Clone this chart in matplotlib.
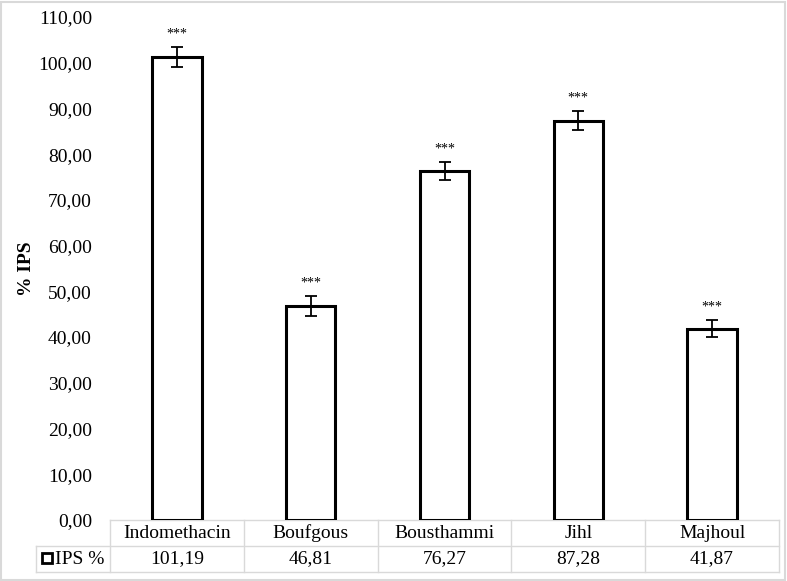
import matplotlib
matplotlib.use("Agg")
import matplotlib.pyplot as plt
from matplotlib.patches import Rectangle
from matplotlib.transforms import blended_transform_factory

categories = ["Indomethacin", "Boufgous", "Bousthammi", "Jihl", "Majhoul"]
values = [101.19, 46.81, 76.27, 87.28, 41.87]
errors = [2.2, 2.1, 2.0, 2.1, 1.9]
value_labels = ["101,19", "46,81", "76,27", "87,28", "41,87"]
yticks = list(range(0, 111, 10))
series_name = "IPS %"
signif = "***"

plt.rcParams['font.family'] = ['Liberation Serif', 'DejaVu Serif']
FS = 14

W, H = 787, 581
fig = plt.figure(figsize=(W / 100, H / 100), dpi=100)

# axes: x from 110 to 779 px, y from 520 (0) to 17 (110)
x0, x1 = 110, 779
y_bot, y_top = 520, 17
ax = fig.add_axes([x0 / W, 1 - y_bot / H, (x1 - x0) / W, (y_bot - y_top) / H])

xs = list(range(len(categories)))
ax.bar(xs, values, width=0.37, facecolor='white', edgecolor='black', linewidth=2.2, zorder=2)
ax.errorbar(xs, values, yerr=errors, fmt='none', ecolor='black', elinewidth=1.3,
            capsize=4, capthick=1.3, zorder=3)
for x, v, e in zip(xs, values, errors):
    ax.text(x, v + e + 2.9, signif, ha='center', va='center', fontsize=10)

ax.set_xlim(-0.5, len(categories) - 0.5)
ax.set_ylim(0, 110)
ax.set_yticks(yticks)
ax.set_yticklabels([f"{t},00" for t in yticks], fontsize=FS)
ax.tick_params(axis='y', length=0, pad=13)
ax.set_xticks([])
for s in ax.spines.values():
    s.set_visible(False)
ax.set_ylabel("% IPS", fontsize=FS, fontweight='bold', labelpad=2)

# table below
ah = y_bot - y_top
r1 = -26 / ah
r2 = -52 / ah
tr = blended_transform_factory(ax.transData, ax.transAxes)
gc = '#d9d9d9'
left_legend = -0.5 - (x0 - 36) / ((x1 - x0) / len(categories))
n = len(categories)
# horizontal lines
ax.plot([-0.5, n - 0.5], [0, 0], transform=tr, color=gc, lw=1, clip_on=False, zorder=1)
ax.plot([left_legend, n - 0.5], [r1, r1], transform=tr, color=gc, lw=1, clip_on=False)
ax.plot([left_legend, n - 0.5], [r2, r2], transform=tr, color=gc, lw=1, clip_on=False)
# vertical lines
for xv in [i - 0.5 for i in range(n + 1)]:
    ax.plot([xv, xv], [0, r2], transform=tr, color=gc, lw=1, clip_on=False)
ax.plot([left_legend, left_legend], [r1, r2], transform=tr, color=gc, lw=1, clip_on=False)

for x, c, vl in zip(xs, categories, value_labels):
    ax.text(x, r1 / 2, c, transform=tr, ha='center', va='center', fontsize=FS)
    ax.text(x, (r1 + r2) / 2, vl, transform=tr, ha='center', va='center', fontsize=FS)

# legend cell
fig.patches.append(Rectangle((42 / W, 1 - 563 / H), 10 / W, 10 / H, transform=fig.transFigure,
                             facecolor='white', edgecolor='black', linewidth=2))
fig.text(55.5 / W, 1 - 559 / H, series_name, ha='left', va='center', fontsize=FS)

# figure border
fig.patches.append(Rectangle((1 / W, 1 / H), (W - 3) / W, (H - 3) / H, transform=fig.transFigure,
                             facecolor='none', edgecolor='#d9d9d9', linewidth=1.5))

fig.savefig("out.png", dpi=100)
